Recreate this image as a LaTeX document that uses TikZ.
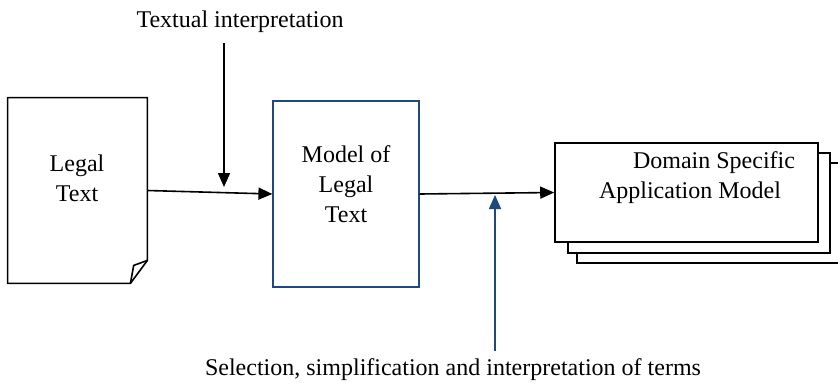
\documentclass[tikz,border=0pt]{standalone}
\usepackage{fontspec}
\setmainfont{Liberation Serif}
\usetikzlibrary{arrows.meta,positioning}
\definecolor{boxblue}{RGB}{31,73,125}

\tikzset{
  arr/.style={thick,-{Triangle[length=7pt,width=6pt]}},
  box/.style={draw,thick,fill=white,inner sep=0pt},
  lbl/.style={font=\fontsize{12}{15}\selectfont,align=center,inner sep=0pt}
}

\begin{document}
\begin{tikzpicture}[x=0.5pt,y=-0.5pt]
\useasboundingbox (0,0) rectangle (838,386);
% legal text document, folded corner
\node[inner sep=0pt,minimum width=69.5pt,minimum height=92.5pt] (legal) at (77.5,190.5) {};
\draw[thick,line join=round] (legal.north west) -- (legal.north east)
  -- ([yshift=11.5pt]legal.south east) -- ([xshift=-8.5pt]legal.south east)
  -- (legal.south west) -- cycle;
\draw[thick,line join=round] ([xshift=-8.5pt]legal.south east) -- ([xshift=-6.85pt,yshift=9pt]legal.south east)
  -- ([yshift=11.5pt]legal.south east);
\node[lbl] (legaltxt) at (77,178) {Legal\\Text};
% model of legal text
\node[box,draw=boxblue,semithick,minimum width=73pt,minimum height=93pt] (model) at (346,194) {};
\node[lbl] (modeltxt) at (346,184) {Model of\\Legal\\Text};
% domain specific application model (stacked)
\draw[thick,fill=white] (577,163) rectangle (860,263);
\draw[thick,fill=white] (568,153) rectangle (830,253);
\node[box,minimum width=131.5pt,minimum height=49.5pt] (dsam) at (686.5,192.5) {};
\node[lbl] (dsamtxt) at (690,178) {\hspace*{2em}Domain Specific\\Application Model};
% annotations
\node[lbl] (textint) at (240,22) {Textual interpretation};
\node[lbl] (selint) at (453,370) {Selection, simplification and interpretation of terms};
\coordinate (tiend) at (224,187);
\coordinate (selend) at (495,195);
\draw[arr] (legal.east) -- (model.west);
\draw[arr] (model.east) -- (dsam.west);
\draw[arr] (tiend |- 0,43) -- (tiend);
\draw[arr,draw=boxblue,fill=boxblue] ([yshift=4pt]selend |- selint.north) -- (selend);
\end{tikzpicture}
\end{document}
